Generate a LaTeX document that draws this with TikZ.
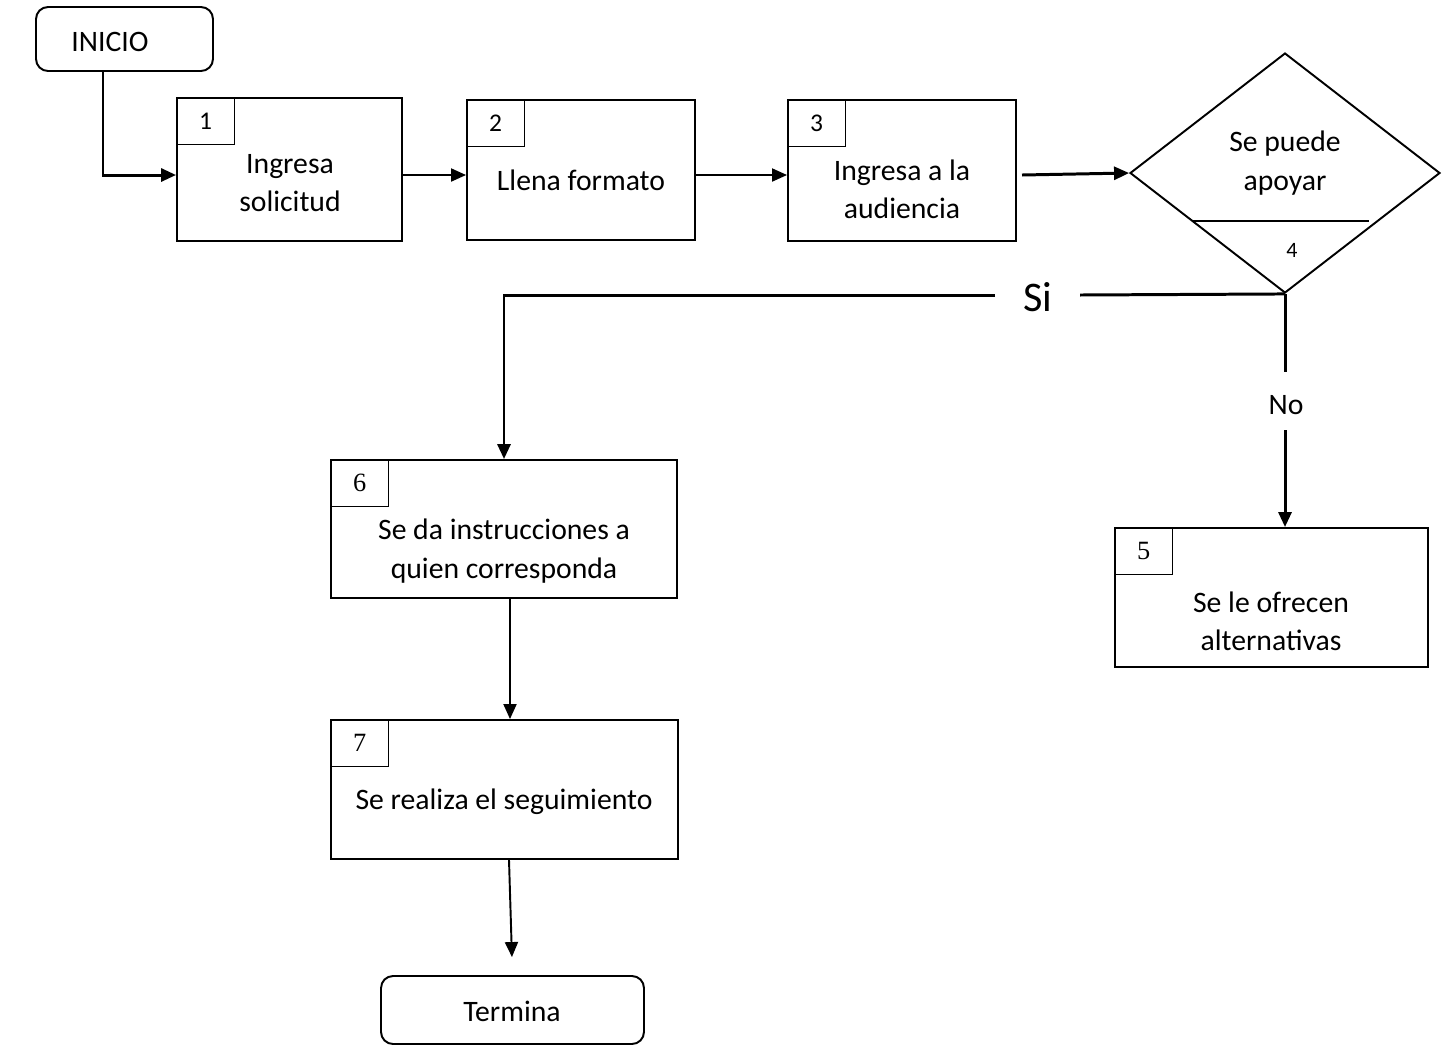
\documentclass[tikz,border=0pt]{standalone}
\usepackage{fontspec}
\setmainfont{Carlito}
\newfontfamily\numserif{Liberation Serif}
\usetikzlibrary{arrows.meta,shapes.geometric,positioning}
\begin{document}
\begin{tikzpicture}[x=0.02cm,y=-0.02cm,
  txt/.style={font=\fontsize{16.9}{21.8}\selectfont, align=center, inner sep=0pt},
  bigtxt/.style={font=\fontsize{24}{28}\selectfont, inner sep=0pt},
  numtxt/.style={font=\fontsize{14.5}{16}\selectfont},
  sertxt/.style={font=\numserif\fontsize{15}{16}\selectfont},
  procbox/.style={draw, line width=1.1pt, rectangle, inner sep=0pt},
  numbox/.style={draw, line width=0.6pt, rectangle, inner sep=0pt, minimum width=1.16cm, minimum height=0.94cm, anchor=north west},
  termbox/.style={draw, line width=1.1pt, rectangle, rounded corners=0.24cm, inner sep=0pt},
  thickarr/.style={line width=1.7pt, -{Triangle[length=0.3cm,width=0.26cm]}},
  thinarr/.style={line width=1.1pt, -{Triangle[length=0.3cm,width=0.26cm]}},
  thickline/.style={line width=1.7pt}
]
\useasboundingbox (0,0) rectangle (1444,1046);

% Terminals
\node[termbox, minimum width=3.54cm, minimum height=1.28cm] (inicio) at (124.5,39) {};
\node[txt] (inicioT) at (110,42) {INICIO};
\node[termbox, minimum width=5.26cm, minimum height=1.36cm] (termina) at (512.5,1010) {};
\node[txt] (terminaT) at (512,1011) {Termina};

% Box 1
\node[procbox, minimum width=4.5cm, minimum height=2.86cm] (b1) at (289.5,169.5) {};
\node[numbox, numtxt] (n1) at (b1.north west) {1};
\node[txt] (t1) at (290,183) {Ingresa\\solicitud};

% Box 2
\node[procbox, minimum width=4.56cm, minimum height=2.8cm] (b2) at (581,170) {};
\node[numbox, numtxt] (n2) at (b2.north west) {2};
\node[txt] (t2) at (581,180) {Llena formato};

% Box 3
\node[procbox, minimum width=4.56cm, minimum height=2.82cm] (b3) at (902,170.5) {};
\node[numbox, numtxt] (n3) at (b3.north west) {3};
\node[txt] (t3) at (902,189) {Ingresa a la\\audiencia};

% Decision
\node[draw, diamond, line width=1.1pt, inner sep=0pt, minimum width=6.2cm, minimum height=4.8cm] (dia) at (1285,173) {};
\node[txt] (t4) at (1285,163) {Se puede\\apoyar};
\coordinate (dl) at (1193,221);
\coordinate (dr) at (1369,221);
\draw[line width=0.8pt] (dl) -- (dr);
\node[font=\fontsize{12.5}{14}\selectfont] (n4) at (1292,250) {4};

% Box 5
\node[procbox, minimum width=6.26cm, minimum height=2.78cm] (b5) at (1271.5,597.5) {};
\node[numbox, sertxt] (n5) at (b5.north west) {5};
\node[txt] (t5) at (1271,621.5) {Se le ofrecen\\alternativas};

% Box 6
\node[procbox, minimum width=6.92cm, minimum height=2.76cm] (b6) at (504,529) {};
\node[numbox, sertxt] (n6) at (b6.north west) {6};
\node[txt] (t6) at (504,551) {Se da instrucciones a\\quien corresponda};

% Box 7
\node[procbox, minimum width=6.94cm, minimum height=2.78cm] (b7) at (504.5,789.5) {};
\node[numbox, sertxt] (n7) at (b7.north west) {7};
\node[txt] (t7) at (504,802) {Se realiza el seguimiento};

% Connectors
\draw[thickarr] (inicio.south -| 103,0) |- (b1.west |- 0,175);
\draw[thinarr] (b1.east |- 0,175) -- (b2.west |- 0,175);
\draw[thinarr] (b2.east |- 0,175) -- (b3.west |- 0,175);
\draw[thickarr] (1022,175) -- (dia.west);

% Si branch
\node[bigtxt] (si) at (1038,297) {Si};
\coordinate (siR) at (1080,295);
\coordinate (siL) at (995,295);
\draw[thickline] (dia.south) -- (siR);
\draw[thickarr] (siL) -| (b6.north);

% No branch
\node[txt] (no) at (1286,405) {No};
\draw[thickline] (dia.south) -- (dia.south |- 0,372);
\draw[thickarr] (dia.south |- 0,430) -- (dia.south |- b5.north);

% Vertical flow
\draw[thinarr] (b6.south -| 510,0) -- (b7.north -| 510,0);
\draw[thinarr, shorten >=0.36cm] (b7.south -| 509,0) -- (termina.north);
\end{tikzpicture}
\end{document}
